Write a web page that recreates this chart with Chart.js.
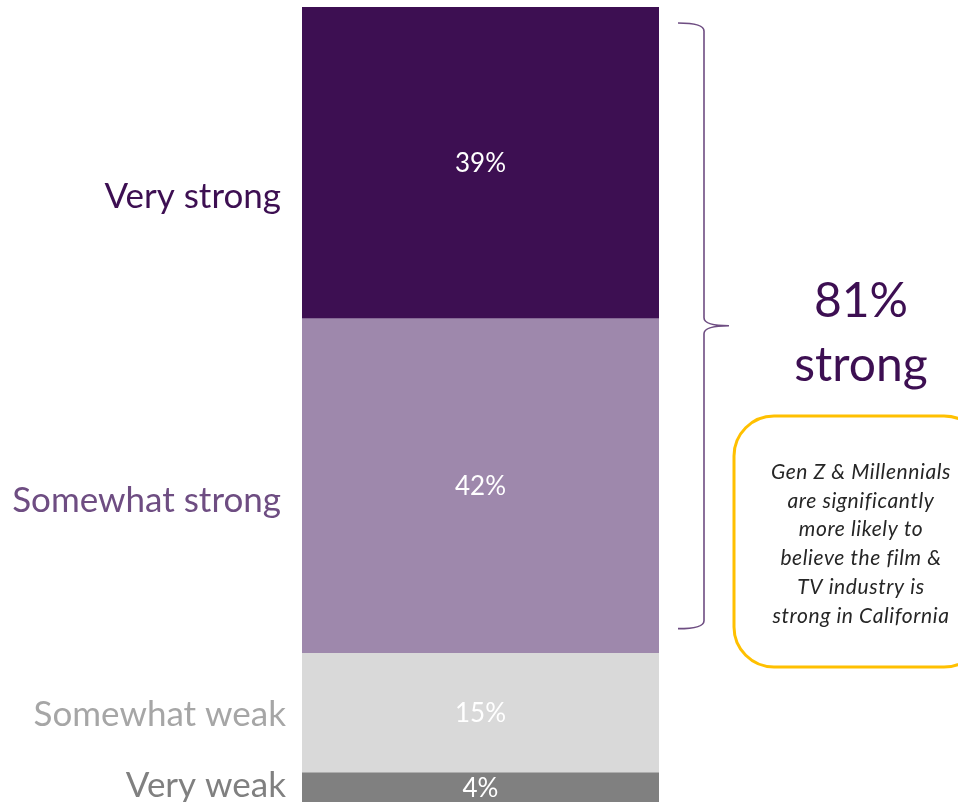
<!DOCTYPE html>
<html>
<head>
<meta charset="utf-8">
<script src="https://cdn.jsdelivr.net/npm/chart.js@4/dist/chart.umd.min.js"></script>
<style>
  html, body { margin: 0; padding: 0; background: #fff; overflow: hidden; }
  #wrap { position: relative; width: 958px; height: 806px; }
</style>
</head>
<body>
<div id="wrap"><canvas id="c"></canvas></div>
<script>
// strength of the film & TV industry in California (share of respondents)
var levels = ["Very strong", "Somewhat strong", "Somewhat weak", "Very weak"];
var shares = [39, 42, 15, 4];
var barColors = ["#3d0f52", "#9e88ac", "#d9d9d9", "#808080"];
var labelColors = ["#3d0f52", "#6e4d82", "#a6a6a6", "#808080"];
// offsets for the side labels, px
var labelNudge = [34, 16, 2, -2];
var labelGap = [21, 21, 16, 16];

var strongTotal = shares[0] + shares[1];
var noteLines = ["Gen Z & Millennials", "are significantly", "more likely to",
  "believe the film &", "TV industry is", "strong in California"];

var FONT = "Lato, Calibri, 'Open Sans', sans-serif";

var sideLabels = {
  id: "sideLabels",
  afterDatasetsDraw: function (chart) {
    var ctx = chart.ctx, area = chart.chartArea;
    ctx.save();
    chart.data.datasets.forEach(function (ds, i) {
      var bar = chart.getDatasetMeta(i).data[0];
      var mid = (bar.y + bar.base) / 2;
      // value inside the segment
      ctx.fillStyle = "#ffffff";
      ctx.font = "26px " + FONT;
      ctx.textAlign = "center";
      ctx.textBaseline = "middle";
      ctx.fillText(ds.data[0] + "%", bar.x, mid + 1);
      // level name to the left
      ctx.fillStyle = labelColors[i];
      ctx.font = "35px " + FONT;
      ctx.textAlign = "right";
      ctx.fillText(ds.label, area.left - labelGap[i], mid + labelNudge[i]);
    });
    ctx.restore();
  }
};

var bracket = {
  id: "bracket",
  afterDraw: function (chart) {
    var ctx = chart.ctx, y = chart.scales.y, area = chart.chartArea;
    var x0 = area.right + 19, xv = area.right + 45, xt = area.right + 70;
    var top = y.getPixelForValue(2), mid = y.getPixelForValue(40), bot = y.getPixelForValue(78);
    ctx.save();
    ctx.strokeStyle = "#6e4d82";
    ctx.lineWidth = 1.6;
    ctx.beginPath();
    ctx.moveTo(x0, top);
    ctx.quadraticCurveTo(xv, top, xv, top + 8);
    ctx.lineTo(xv, mid - 8);
    ctx.quadraticCurveTo(xv, mid, xt, mid);
    ctx.quadraticCurveTo(xv, mid, xv, mid + 8);
    ctx.lineTo(xv, bot - 8);
    ctx.quadraticCurveTo(xv, bot, x0, bot);
    ctx.stroke();

    // headline total
    ctx.fillStyle = "#3d0f52";
    ctx.font = "48px " + FONT;
    ctx.textAlign = "center";
    ctx.textBaseline = "middle";
    ctx.fillText(strongTotal + "%", 861, 302);
    ctx.fillText("strong", 861, 366);

    // callout box
    var bx = 734, by = 416, bw = 250, bh = 251, r = 40;
    ctx.strokeStyle = "#ffc000";
    ctx.lineWidth = 3;
    ctx.beginPath();
    ctx.moveTo(bx + r, by);
    ctx.lineTo(bx + bw - r, by);
    ctx.arcTo(bx + bw, by, bx + bw, by + r, r);
    ctx.lineTo(bx + bw, by + bh - r);
    ctx.arcTo(bx + bw, by + bh, bx + bw - r, by + bh, r);
    ctx.lineTo(bx + r, by + bh);
    ctx.arcTo(bx, by + bh, bx, by + bh - r, r);
    ctx.lineTo(bx, by + r);
    ctx.arcTo(bx, by, bx + r, by, r);
    ctx.closePath();
    ctx.stroke();

    ctx.fillStyle = "#262626";
    ctx.font = "italic 21px " + FONT;
    ctx.letterSpacing = "0.6px";
    noteLines.forEach(function (t, i) {
      ctx.fillText(t, 861, 472 + i * 28.8);
    });
    ctx.restore();
  }
};

new Chart(document.getElementById("c"), {
  type: "bar",
  data: {
    labels: [""],
    datasets: levels.map(function (name, i) {
      return {
        label: name,
        data: [shares[i]],
        backgroundColor: barColors[i],
        borderWidth: 0,
        barPercentage: 1,
        categoryPercentage: 1
      };
    })
  },
  options: {
    responsive: true,
    maintainAspectRatio: false,
    animation: false,
    layout: { padding: { left: 302, right: 299, top: 7, bottom: 2 } },
    plugins: { legend: { display: false }, tooltip: { enabled: false } },
    scales: {
      x: { stacked: true, display: false },
      y: { stacked: true, display: false, reverse: true, min: 0, max: 100 }
    }
  },
  plugins: [sideLabels, bracket]
});
</script>
</body>
</html>
